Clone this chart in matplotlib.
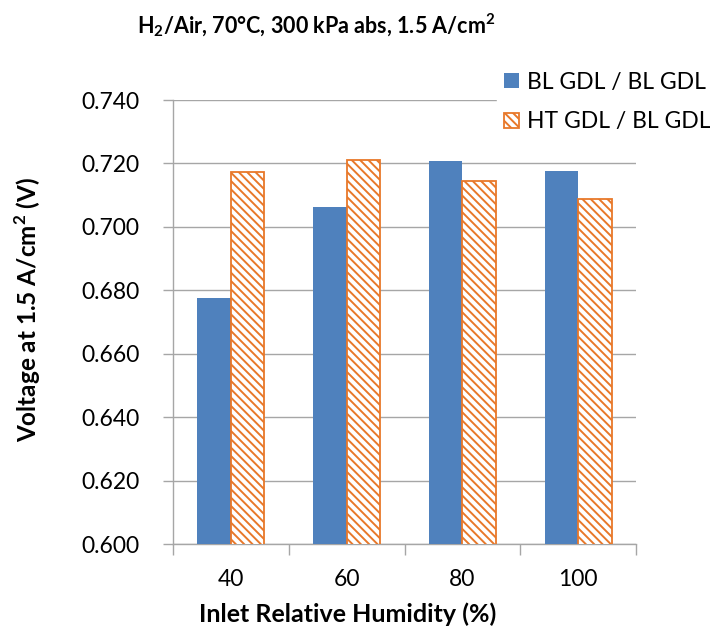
import matplotlib
matplotlib.use("Agg")
import matplotlib.pyplot as plt
import numpy as np

categories = ["40", "60", "80", "100"]
bl_gdl = [0.6776, 0.7062, 0.7209, 0.7177]
ht_gdl = [0.7174, 0.7212, 0.7144, 0.7089]
series_names = ["BL GDL / BL GDL", "HT GDL / BL GDL"]
yticks = [0.600, 0.620, 0.640, 0.660, 0.680, 0.700, 0.720, 0.740]

plt.rcParams['font.family'] = ['Lato', 'DejaVu Sans']
plt.rcParams['hatch.linewidth'] = 1.4

fig = plt.figure(figsize=(7.1, 6.34), dpi=100)
ax = fig.add_axes([173/710, 1-544/634, (636-173)/710, (544-100)/634])

x = np.arange(len(categories))
w = 0.29
blue = "#4F81BD"
orange = "#E8782A"
ax.bar(x - w/2, bl_gdl, width=w, color=blue, label=series_names[0], zorder=3)
ax.bar(x + w/2, ht_gdl, width=w, facecolor="white", edgecolor=orange,
       hatch="\\\\\\\\", linewidth=1.3, label=series_names[1], zorder=3)

ax.set_xlim(-0.5, len(categories) - 0.5)
ax.set_ylim(0.600, 0.740)
ax.set_yticks(yticks)
ax.set_yticklabels([f"{t:.3f}" for t in yticks], fontsize=16.5)
ax.set_xticks(x)
ax.set_xticklabels(categories, fontsize=16.5)
ax.set_xticks(np.arange(len(categories) + 1) - 0.5, minor=True)
ax.tick_params(axis='x', which='major', length=0, pad=18)
ax.tick_params(axis='x', which='minor', length=8, color="#A6A6A6", width=1)
ax.tick_params(axis='y', length=7, color="#A6A6A6", width=1, pad=17)
ax.grid(axis='y', color="#A6A6A6", linewidth=1, zorder=0)
ax.set_axisbelow(True)
for s in ['top', 'right']:
    ax.spines[s].set_visible(False)
for s in ['left', 'bottom']:
    ax.spines[s].set_color("#A6A6A6")
    ax.spines[s].set_linewidth(1)

leg = ax.legend(loc='upper left', bbox_to_anchor=(497/710, 1-65/634),
                bbox_transform=fig.transFigure, frameon=True, fontsize=16.5,
                handlelength=0.65, handleheight=0.65, handletextpad=0.35,
                labelspacing=0.8, borderpad=0.3, borderaxespad=0, fancybox=False)
leg.get_frame().set_edgecolor("white")
leg.get_frame().set_facecolor("white")
leg.get_frame().set_alpha(1)
leg.set_zorder(5)

fig.text(316/710, 1-25/634, r"H$_\mathregular{2}$/Air, 70°C, 300 kPa abs, 1.5 A/cm$^\mathregular{2}$",
         ha='center', va='center', fontsize=15.5, fontweight='bold')
fig.text(28/710, 1-310/634, r"Voltage at 1.5 A/cm$^\mathregular{2}$ (V)", rotation=90,
         ha='center', va='center', fontsize=17.5, fontweight='bold')
fig.text(348/710, 1-614/634, "Inlet Relative Humidity (%)",
         ha='center', va='center', fontsize=18, fontweight='bold')

fig.savefig("out.png", dpi=100)
